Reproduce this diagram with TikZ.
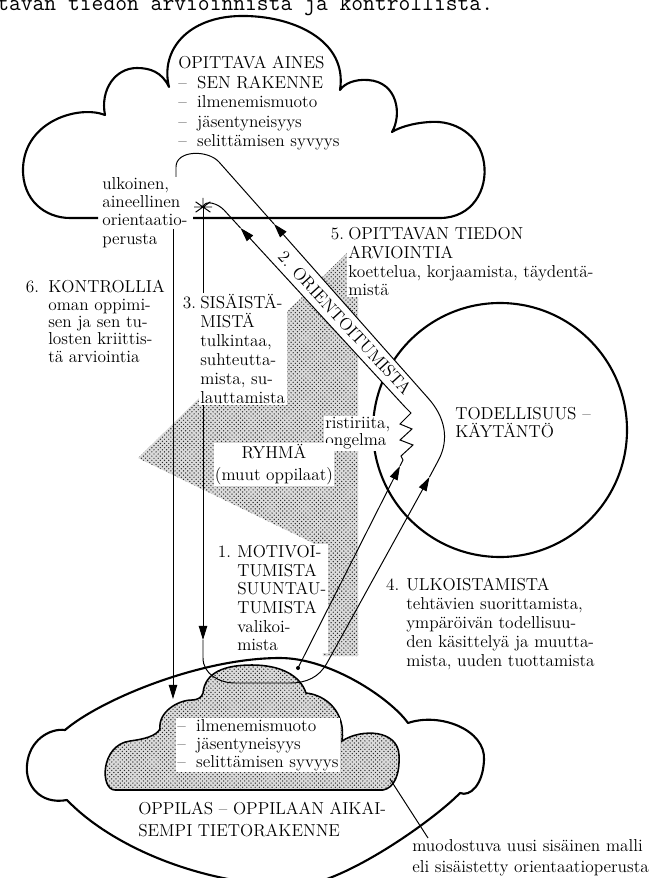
\documentclass[tikz,border=0pt]{standalone}
\usepackage{fontspec}
\usetikzlibrary{arrows.meta,patterns}
\newcommand{\lblfont}[1]{\fontsize{12.3}{#1}\selectfont}
\newcommand{\dsh}{\textendash\hspace{0.6em}}

\begin{document}
\begin{tikzpicture}[
  x=0.025cm,y=0.025cm,
  every node/.style={font=\lblfont{13.4},inner sep=1pt,align=left},
  outline/.style={line width=1.5pt,line join=round},
  flow/.style={line width=0.7pt},
  halftone/.style={preaction={fill=black!14},pattern=crosshatch dots,pattern color=black!85},
  >={Triangle[length=10pt,width=6pt]}]
  \useasboundingbox (0,0) rectangle (656,-878);
  \clip (0,0) rectangle (656,-878);
  \fill[white] (0,0) rectangle (656,-878);

  \node[font=\ttfamily\fontsize{16.3}{16.3}\selectfont,anchor=base west,inner sep=0pt] (head) at (-3,-11) {tavan tiedon arvioinnista ja kontrollista.};

  \fill[halftone] (138,-458) -- (350,-250) -- (358,-258) -- (358,-656) -- (323,-656) -- (313,-543) -- cycle;
  \draw[outline] (500,-430) circle[radius=127];
  \fill[white] (237,-224) -- (274,-224) -- (428,-398) -- (440,-425) -- (405,-407) -- cycle;

  \draw[outline] (193,-218) -- (440,-218)
    .. controls (472,-218) and (488,-190) .. (484,-163)
    .. controls (480,-135) and (455,-120) .. (430,-122)
    .. controls (412,-123) and (398,-128) .. (392,-132)
    .. controls (402,-115) and (398,-82) .. (368,-80)
    .. controls (354,-79) and (344,-84) .. (340,-90)
    .. controls (348,-40) and (292,-15) .. (240,-16)
    .. controls (188,-17) and (160,-50) .. (169,-87)
    .. controls (162,-72) and (150,-68) .. (137,-68)
    .. controls (115,-68) and (100,-90) .. (105,-115)
    .. controls (80,-105) and (25,-120) .. (23,-168)
    .. controls (22,-200) and (45,-218) .. (70,-218) -- (98,-218);

  \draw[outline] (280,-658)
    .. controls (330,-658) and (390,-698) .. (408,-723)
    .. controls (440,-712) and (486,-730) .. (484,-760)
    .. controls (483,-785) and (470,-797) .. (460,-793)
    .. controls (436,-818) and (350,-880) .. (300,-886)
    .. controls (200,-886) and (110,-845) .. (67,-800)
    .. controls (40,-805) and (25,-785) .. (27,-765)
    .. controls (29,-740) and (50,-728) .. (65,-730)
    .. controls (100,-700) and (200,-658) .. (280,-658) -- cycle;
  \draw[line width=1.1pt,halftone] (383,-790) -- (115,-790)
    .. controls (100,-790) and (100,-745) .. (130,-741)
    .. controls (145,-739) and (156,-736) .. (160,-729)
    .. controls (158,-712) and (178,-700) .. (192,-700)
    .. controls (198,-700) and (202,-697) .. (203,-693)
    .. controls (205,-672) and (225,-665) .. (252,-665)
    .. controls (280,-665) and (300,-675) .. (306,-693)
    .. controls (326,-695) and (346,-712) .. (342,-741)
    .. controls (362,-728) and (398,-730) .. (399,-755)
    .. controls (400,-775) and (394,-788) .. (383,-790) -- cycle;

  \coordinate (star) at (203,-207);
  \coordinate (aEnd) at (224,-210);
  \coordinate (aTip) at (240.5,-228);
  \coordinate (zzTop) at (405,-407);
  \coordinate (zzBot) at (403,-460);
  \coordinate (dot) at (298,-668);
  \coordinate (oneTip) at (400,-466);
  \coordinate (threeTip) at (203,-640);
  \coordinate (uLeft) at (203,-658);
  \coordinate (uBot) at (235,-683);
  \coordinate (uMid) at (290,-683);
  \coordinate (uRight) at (327,-663);
  \coordinate (fourTip) at (429.5,-477);
  \coordinate (bendIn) at (438,-461);
  \coordinate (bendOut) at (428,-398);
  \coordinate (fiveTip) at (274,-224);
  \coordinate (bTop) at (219,-162);
  \coordinate (hookEnd) at (176,-177);
  \coordinate (sixTop) at (173,-229);
  \coordinate (sixTip) at (173,-699);
  \coordinate (calloutA) at (390,-779);
  \coordinate (calloutB) at (428,-838);

  \draw[flow] (star) ++(0:9) -- ++(180:18) (star) ++(35:9) -- ++(215:18)
    (star) ++(145:9) -- ++(325:18) (star) -- ++(90:9);
  \draw[flow,->] (zzTop) -- (aTip);
  \draw[flow] (aTip) -- (aEnd) to[out=133,in=75] (star);
  \draw[flow] (zzTop) -- (411,-413) -- (400,-424) -- (412,-429) -- (400,-440)
    -- (413,-445) -- (401,-456) -- (zzBot);
  \draw[flow,->] (star) -- (threeTip);
  \draw[flow] (fourTip) -- (bendIn) to[out=61,in=-48] (bendOut);
  \draw[flow,->] (bendOut) -- (fiveTip);
  \draw[flow] (fiveTip) -- (bTop) to[out=132,in=90] (176,-167) -- (hookEnd);
  \draw[flow,->] (sixTop) -- (sixTip);
  \draw[flow] (calloutA) -- (calloutB);

  \node[anchor=north west,font=\lblfont{13.9}] (aines) at (176.6,-54.6) {OPITTAVA AINES\\\dsh SEN RAKENNE\\\dsh ilmenemismuoto\\\dsh jäsentyneisyys\\\dsh selittämisen syvyys};
  \node[anchor=north west,font=\lblfont{13}] (base) at (100.6,-175.6) {ulkoinen,\\aineellinen\\orientaatio-\\perusta};
  \node[anchor=north west,fill=white,font=\lblfont{13.3}] (arviointi) at (346.6,-225.6) {\llap{5.\hspace{3pt}}OPITTAVAN TIEDON\\ARVIOINTIA\\koettelua, korjaamista, täydentä-\\mistä};
  \node[anchor=north west,font=\lblfont{12.4}] (kontrolli) at (46.6,-278.6) {\llap{6.\hspace{6.5pt}}KONTROLLIA\\oman oppimi-\\sen ja sen tu-\\losten kriittis-\\tä arviointia};
  \node[anchor=north west,fill=white,font=\lblfont{13.5}] (sisais) at (198.6,-292.6) {\llap{3.\hspace{3pt}}SISÄISTÄ-\\MISTÄ\\tulkintaa,\\suhteutta-\\mista, su-\\lauttamista};
  \node[rotate=-47.5,inner sep=0pt] (orient) at (345,-323) {2. ORIENTOITUMISTA};
  \node[anchor=north west,fill=white,font=\lblfont{12.2}] (ristiriita) at (323.6,-415.6) {ristiriita,\\ongelma};
  \node[anchor=north,fill=white,align=center,font=\lblfont{15.5}] (ryhma) at (274,-442.6) {RYHMÄ\\(muut oppilaat)};
  \node[anchor=north west,font=\lblfont{13}] (todellisuus) at (453.6,-405.6) {TODELLISUUS –\\KÄYTÄNTÖ};
  \node[anchor=north west,fill=white,font=\lblfont{13.3}] (motivointi) at (235.6,-543.6) {\llap{1.\hspace{4.5pt}}MOTIVOI-\\TUMISTA\\SUUNTAU-\\TUMISTA\\valikoi-\\mista};
  \node[anchor=north west,font=\lblfont{13.5}] (ulkoist) at (404.6,-576.6) {\llap{4.\hspace{5pt}}ULKOISTAMISTA\\tehtävien suorittamista,\\ympäröivän todellisuu-\\den käsittelyä ja muutta-\\mista, uuden tuottamista};
  \node[anchor=north west,fill=white,font=\lblfont{12.8}] (tieto) at (175.6,-717.6) {\dsh ilmenemismuoto\\\dsh jäsentyneisyys\\\dsh selittämisen syvyys};
  \node[anchor=north west,font=\lblfont{15.6}] (oppilas) at (136.6,-800.6) {OPPILAS – OPPILAAN AIKAI-\\SEMPI TIETORAKENNE};
  \node[anchor=north west,font=\lblfont{15}] (malli) at (410.6,-837.6) {muodostuva uusi sisäinen malli\\eli sisäistetty orientaatioperusta};

  \draw[flow,->] (dot) -- (oneTip);
  \draw[flow] (oneTip) -- (zzBot);
  \fill (dot) circle[radius=2];
  \draw[flow] (threeTip) -- (uLeft) to[out=-90,in=180] (uBot) -- (uMid) to[out=0,in=241] (uRight);
  \draw[flow,->] (uRight) -- (fourTip);
\end{tikzpicture}
\end{document}
